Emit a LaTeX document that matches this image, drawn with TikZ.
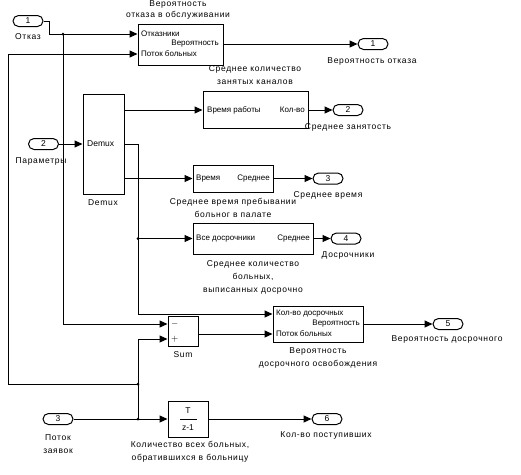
\documentclass[tikz,border=0pt]{standalone}
\usepackage{fontspec}
\setmainfont{Liberation Sans}
\newfontfamily\labfont[LetterSpace=8]{Liberation Sans}
\usetikzlibrary{arrows.meta,calc}
\begin{document}
\begin{tikzpicture}[x=1pt,y=-1pt,
  blk/.style={draw, line width=1pt, inner sep=0},
  port/.style={draw, line width=1pt, rounded corners=5.5pt, minimum width=30pt, minimum height=11pt, inner sep=0, font=\fontsize{8.5}{9}\selectfont},
  wire/.style={line width=1pt},
  arr/.style={line width=1pt, -{Triangle[length=8pt,width=7pt]}},
  lab/.style={inner sep=0, align=center, font=\fontsize{8.5}{13}\labfont},
  intext/.style={inner sep=0, font=\fontsize{8}{9}\selectfont},
  jdot/.style={circle, fill, inner sep=0, minimum size=3pt}]
\useasboundingbox (0,0) rectangle (521,474);

% ---------- blocks ----------
\node[blk, minimum width=85pt, minimum height=41pt] (b1) at (180.5,44.5) {};
\node[blk, minimum width=105pt, minimum height=37pt] (b2) at (255.5,110) {};
\node[blk, minimum width=80pt, minimum height=27pt] (b3) at (233,178.5) {};
\node[blk, minimum width=120pt, minimum height=31pt] (b4) at (253,238.5) {};
\node[blk, minimum width=90pt, minimum height=36pt] (b5) at (318,324) {};
\node[blk, minimum width=30pt, minimum height=30pt] (sum) at (183,331) {};
\node[blk, minimum width=40pt, minimum height=36pt] (tz) at (188,419) {};
\node[blk, minimum width=41pt, minimum height=100pt] (dmx) at (103.5,144) {};

% ---------- block inner texts ----------
\node[intext, anchor=west] (b1a) at (141,34) {Отказники};
\node[intext, anchor=east] (b1b) at (219,44) {Вероятность};
\node[intext, anchor=west] (b1c) at (141,54) {Поток больных};
\node[intext, anchor=west] (b2a) at (207,110) {Время работы};
\node[intext, anchor=east] (b2b) at (305,110) {Кол-во};
\node[intext, anchor=west] (b3a) at (196,178.5) {Время};
\node[intext, anchor=east] (b3b) at (270,178.5) {Среднее};
\node[intext, anchor=west] (b4a) at (196,238.5) {Все досрочники};
\node[intext, anchor=east] (b4b) at (310,238.5) {Среднее};
\node[intext, anchor=west] (b5a) at (276,314) {Кол-во досрочных};
\node[intext, anchor=east] (b5b) at (360,324) {Вероятность};
\node[intext, anchor=west] (b5c) at (276,334) {Поток больных};
\node[intext, anchor=west, font=\fontsize{9.5}{9}\selectfont] (sm) at (171,324) {$-$};
\node[intext, anchor=west, font=\fontsize{9.5}{9}\selectfont] (sp) at (171,339) {$+$};
\node[intext, font=\fontsize{8.5}{9}\selectfont] (tzT) at (188,411) {T};
\node[intext, font=\fontsize{8.5}{9}\selectfont] (tzz) at (188,428) {z-1};
\draw[wire] (180,419) -- (197,419);
\node[intext, anchor=west, font=\fontsize{8.5}{9}\selectfont] (dmxt) at (87,144) {Demux};

% ---------- ports ----------
\node[port] (in1) at (28,21) {1};
\node[port] (in2) at (43.5,144) {2};
\node[port] (in3) at (58,419) {3};
\node[port] (out1) at (373,44) {1};
\node[port] (out2) at (348,110) {2};
\node[port] (out3) at (328,178.5) {3};
\node[port] (out4) at (346,238.5) {4};
\node[port] (out5) at (448,324) {5};
\node[port] (out6) at (327,419) {6};

% ---------- labels ----------
\node[lab, font=\fontsize{8.5}{11}\labfont] (l1) at (178,10) {Вероятность\\отказа в обслуживании};
\node[lab] (l2) at (255,75.5) {Среднее количество\\занятых каналов};
\node[lab] (l3) at (233,207.5) {Среднее время пребывании\\больног в палате};
\node[lab] (l4) at (253,277) {Среднее количество\\больных,\\выписанных досрочно};
\node[lab] (l5) at (318,358) {Вероятность\\досрочного освобождения};
\node[lab] (lsum) at (183,355) {Sum};
\node[lab] (ltz) at (190,452) {Количество всех больных,\\обратившихся в больницу};
\node[lab] (ldmx) at (103,203) {Demux};
\node[lab] (lin1) at (28,37) {Отказ};
\node[lab] (lin2) at (41,161) {Параметры};
\node[lab] (lin3) at (58,444) {Поток\\заявок};
\node[lab] (lo1) at (372,61) {Вероятность отказа};
\node[lab] (lo2) at (348,127) {Среднее занятость};
\node[lab] (lo3) at (328,195) {Среднее время};
\node[lab] (lo4) at (348,255) {Досрочники};
\node[lab] (lo5) at (447,339) {Вероятность досрочного};
\node[lab] (lo6) at (326,435) {Кол-во поступивших};

% ---------- junctions ----------
\coordinate (j1) at (63,34);
\coordinate (j2) at (138,238.5);
\coordinate (j3) at (138,384);
\coordinate (j4) at (138,419);
\coordinate (dm2) at (138,144);
\node[jdot] (dj1) at (j1) {};
\node[jdot] (dj2) at (j2) {};
\node[jdot] (dj3) at (j3) {};
\node[jdot] (dj4) at (j4) {};

% ---------- connectors ----------
\draw[arr] (in1.east) -- (49,21) -- (49,34) -- (b1.west |- b1a);
\draw[arr] (j1) -- (63,324) -- (sum.west |- sm);
\draw[arr] (j3) -- (8,384) -- (8,54) -- (b1.west |- b1c);
\draw[arr] (b1.east |- b1b) -- (out1.west);
\draw[arr] (in2.east) -- (dmx.west);
\draw[arr] (dmx.east |- b2.west) -- (b2.west);
\draw[wire] (dmx.east) -- (dm2);
\draw[arr] (dm2) -- (138,314) -- (b5.west |- b5a);
\draw[arr] (j2) -- (b4.west);
\draw[arr] (dmx.east |- b3.west) -- (b3.west);
\draw[arr] (b2.east) -- (out2.west);
\draw[arr] (b3.east) -- (out3.west);
\draw[arr] (b4.east) -- (out4.west);
\draw[arr] (sum.east |- b5c) -- (b5.west |- b5c);
\draw[arr] (b5.east |- b5b) -- (out5.west);
\draw[arr] (in3.east) -- (tz.west);
\draw[arr] (j4) -- (138,339) -- (sum.west |- sp);
\draw[arr] (tz.east) -- (out6.west);
\end{tikzpicture}
\end{document}
